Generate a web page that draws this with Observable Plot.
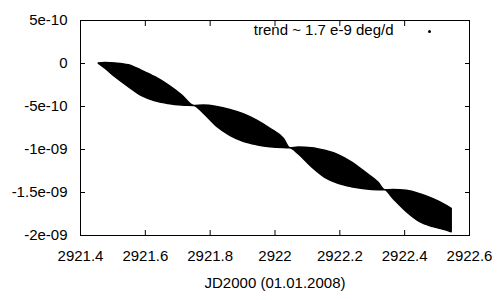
<!DOCTYPE html>
<html>
<head>
<meta charset="utf-8">
<script src="https://cdn.jsdelivr.net/npm/d3@7"></script>
<script src="https://cdn.jsdelivr.net/npm/@observablehq/plot@0.6"></script>
<style>
  html, body { margin: 0; padding: 0; background: #fff; }
  #chart svg { display: block; }
</style>
</head>
<body>
<div id="chart"></div>
<script>
// Envelope of the dense point cloud (JD2000 days vs. deg)
const jd = [2921.456, 2921.477, 2921.508, 2921.549, 2921.590, 2921.631, 2921.672, 2921.713, 2921.751,
            2921.780, 2921.821, 2921.862, 2921.903, 2921.945, 2921.986, 2922.027, 2922.047,
            2922.073, 2922.114, 2922.155, 2922.196, 2922.237, 2922.278, 2922.319, 2922.340,
            2922.365, 2922.407, 2922.448, 2922.489, 2922.530, 2922.545];
const upper = [0, 0.05e-10, 0.0e-10, -0.2e-10, -0.85e-10, -1.6e-10, -2.55e-10, -3.7e-10, -4.94e-10,
               -4.88e-10, -5.05e-10, -5.4e-10, -5.9e-10, -6.65e-10, -7.6e-10, -8.75e-10, -9.85e-10,
               -9.78e-10, -9.85e-10, -10.15e-10, -10.65e-10, -11.5e-10, -12.64e-10, -13.85e-10, -14.75e-10,
               -14.7e-10, -14.8e-10, -15.2e-10, -15.78e-10, -16.55e-10, -16.90e-10];
const lower = [0, -0.6e-10, -1.6e-10, -2.75e-10, -3.8e-10, -4.4e-10, -4.7e-10, -4.88e-10, -4.94e-10,
               -5.81e-10, -7.36e-10, -8.41e-10, -9.10e-10, -9.50e-10, -9.75e-10, -9.84e-10, -9.85e-10,
               -10.55e-10, -12.06e-10, -13.29e-10, -13.99e-10, -14.38e-10, -14.62e-10, -14.74e-10, -14.75e-10,
               -15.73e-10, -17.29e-10, -18.45e-10, -19.03e-10, -19.42e-10, -19.62e-10];

const xTicks = [2921.4, 2921.6, 2921.8, 2922.0, 2922.2, 2922.4, 2922.6];
const xTickLabels = ["2921.4", "2921.6", "2921.8", "2922", "2922.2", "2922.4", "2922.6"];
const yTicks = [5e-10, 0, -5e-10, -1e-9, -1.5e-9, -2e-9];
const yTickLabels = ["5e-10", "0", "-5e-10", "-1e-09", "-1.5e-09", "-2e-09"];
const xTitle = "JD2000 (01.01.2008)";
const legendLabel = "trend ~ 1.7 e-9 deg/d";

const band = jd.map((x, i) => ({x, hi: upper[i], lo: lower[i]}));
const fmtX = d => xTickLabels[xTicks.indexOf(d)];
const fmtY = d => yTickLabels[yTicks.indexOf(d)];

const plot = Plot.plot({
  width: 500,
  height: 300,
  marginLeft: 80,
  marginRight: 31,
  marginTop: 20,
  marginBottom: 65,
  style: {fontFamily: "'Liberation Sans', Arial, sans-serif", fontSize: "15px", color: "black", background: "white"},
  x: {domain: [2921.4, 2922.6]},
  y: {domain: [-2e-9, 5e-10]},
  marks: [
    Plot.areaY(band, {x: "x", y1: "lo", y2: "hi", fill: "black", stroke: "black", strokeWidth: 1.5, curve: "monotone-x"}),
    Plot.frame({stroke: "black", strokeWidth: 1}),
    Plot.axisX({anchor: "bottom", ticks: xTicks, tickSize: -5, tickPadding: 20, tickFormat: fmtX, label: null, fontSize: 15}),
    Plot.axisX({anchor: "top", ticks: xTicks, tickSize: -5, tickFormat: () => "", label: null}),
    Plot.axisY({anchor: "left", ticks: yTicks, tickSize: -5, tickPadding: 18, tickFormat: fmtY, label: null, fontSize: 15}),
    Plot.axisY({anchor: "right", ticks: yTicks, tickSize: -5, tickFormat: () => "", label: null}),
    Plot.text([xTitle], {frameAnchor: "bottom", dy: 42, lineAnchor: "top", fontSize: 15, fill: "black"}),
    Plot.text([legendLabel], {frameAnchor: "top-right", dx: -76, dy: 10, textAnchor: "end", lineAnchor: "middle", fontSize: 15, fill: "black"}),
    Plot.dot([legendLabel], {x: null, y: null, frameAnchor: "top-right", dx: -40, dy: 11, r: 1.5, fill: "black", stroke: null})
  ]
});
document.getElementById("chart").appendChild(plot);
</script>
</body>
</html>
